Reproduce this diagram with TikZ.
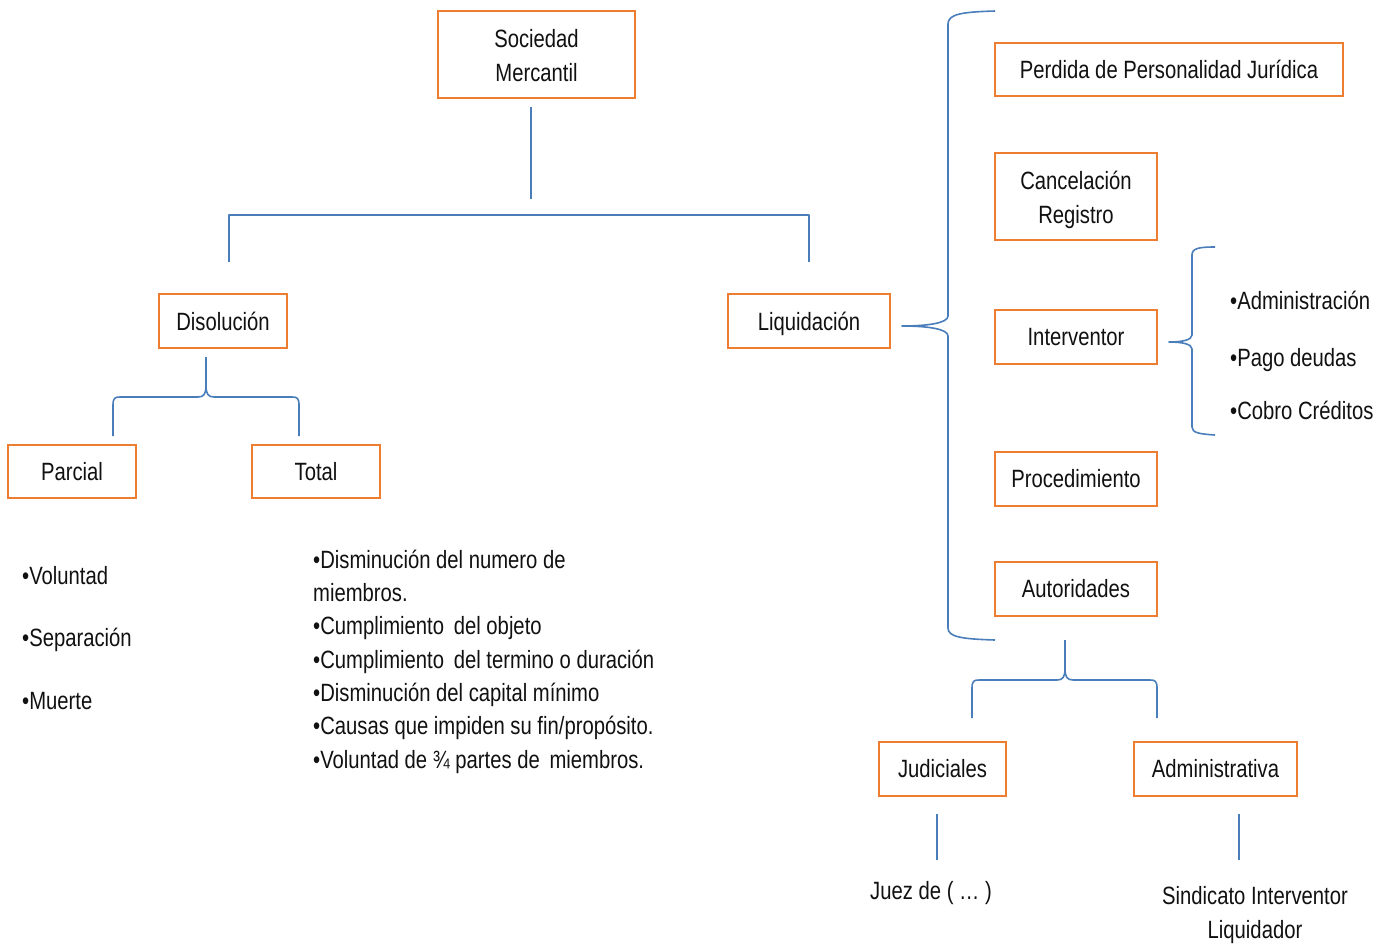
\documentclass[tikz,border=0pt]{standalone}
\usepackage{fontspec}
\setmainfont{Liberation Sans}[FakeStretch=0.81]
\definecolor{boxorange}{HTML}{ED7D31}
\definecolor{lineblue}{HTML}{4A7EBB}
\definecolor{txt}{HTML}{111111}
\tikzset{
  box/.style={draw=boxorange, line width=1.6pt, fill=white, rectangle, inner sep=0pt, align=center, text=txt},
  conn/.style={draw=lineblue, line width=1.6pt, line join=round},
  lbl/.style={inner sep=0pt, text=txt, align=left, anchor=base west},
}
\begin{document}
\begin{tikzpicture}[x=1pt,y=-1pt,font=\fontsize{25}{34}\selectfont]
\useasboundingbox (0,0) rectangle (1387,943);
% boxes
\node[box, minimum width=197pt, minimum height=87pt] (soc) at (536.5,54.5) {\rule{0pt}{20pt}Sociedad\\Mercantil};
\node[box, minimum width=128pt, minimum height=54pt] (dis) at (223,321) {Disolución};
\node[box, text depth=0pt, minimum width=162pt, minimum height=54pt] (liq) at (809,321) {Liquidación};
\node[box, minimum width=128pt, minimum height=53pt] (par) at (72,471.5) {Parcial};
\node[box, minimum width=128pt, minimum height=53pt] (tot) at (316,471.5) {Total};
\node[box, minimum width=348pt, minimum height=53pt] (per) at (1169,69.5) {Perdida de Personalidad Jurídica};
\node[box, minimum width=162pt, minimum height=87pt] (can) at (1076,196.5) {\rule{0pt}{26pt}Cancelaci\smash{ó}n\\Registro};
\node[box, minimum width=162pt, minimum height=54pt] (int) at (1076,337) {Interventor};
\node[box, minimum width=162pt, minimum height=54pt] (pro) at (1076,479) {Procedimiento};
\node[box, minimum width=162pt, minimum height=54pt] (aut) at (1076,589) {Autoridades};
\node[box, minimum width=127pt, minimum height=54pt] (jud) at (942.5,769) {Judiciales};
\node[box, minimum width=163pt, minimum height=54pt] (adm) at (1215.5,769) {Administrativa};
% texts
\node[lbl] (v1) at (22,584) {•Voluntad};
\node[lbl] (v2) at (22,646) {•Separación};
\node[lbl] (v3) at (22,709) {•Muerte};
\node[lbl] (t1) at (313,568) {•Disminución del numero de};
\node[lbl] (t2) at (313,601) {miembros.};
\node[lbl] (t3) at (313,634) {•Cumplimiento\, del objeto};
\node[lbl] (t4) at (313,668) {•Cumplimiento\, del termino o duración};
\node[lbl] (t5) at (313,701) {•Disminución del capital mínimo};
\node[lbl] (t6) at (313,734) {•Causas que impiden su fin/propósito.};
\node[lbl] (t7) at (313,768) {•Voluntad de ¾ partes de\, miembros.};
\node[lbl] (i1) at (1230,309) {•Administración};
\node[lbl] (i2) at (1230,366) {•Pago deudas};
\node[lbl] (i3) at (1230,419) {•Cobro Créditos};
\node[inner sep=0pt, anchor=base, text=txt] (juez) at (931,899) {Juez de ( … )};
\node[inner sep=0pt, anchor=base, text=txt, align=center] (sin) at (1255,938) {Sindicato Interventor\\Liquidador};
% coordinates
\coordinate (socS) at (531,107);
\coordinate (socB) at (531,199);
\coordinate (disT) at (229,262);
\coordinate (liqT) at (809,262);
\coordinate (judB) at (937,814);
\coordinate (juezT) at (937,860);
\coordinate (admB) at (1239,814);
\coordinate (sinT) at (1239,860);
% connectors
\draw[conn] (socS) -- (socB);
\draw[conn] (disT) -- (229,215) -- (809,215) -- (liqT);
\draw[conn] (judB) -- (juezT);
\draw[conn] (admB) -- (sinT);
% Disolucion brace
\draw[conn] (113,436) -- (113,405) .. controls (113,398) and (115,397) .. (120,397) -- (198,397)
  .. controls (204,397) and (206,394) .. (206,385) -- (206,357);
\draw[conn] (206,385) .. controls (206,394) and (208,397) .. (214,397) -- (292,397)
  .. controls (297,397) and (299,398) .. (299,405) -- (299,436);
% Autoridades brace
\draw[conn] (972,718) -- (972,688) .. controls (972,681) and (974,680) .. (979,680) -- (1057,680)
  .. controls (1063,680) and (1065,677) .. (1065,668) -- (1065,640);
\draw[conn] (1065,668) .. controls (1065,677) and (1067,680) .. (1073,680) -- (1150,680)
  .. controls (1155,680) and (1157,681) .. (1157,688) -- (1157,718);
% Liquidacion brace
\draw[conn] (995,11) .. controls (962,12) and (948,14) .. (948,24) -- (948,316)
  .. controls (948,323) and (928,326) .. (902,326)
  .. controls (928,326) and (948,329) .. (948,336) -- (948,628)
  .. controls (948,637) and (962,639) .. (995,640);
% Interventor brace
\draw[conn] (1215,247) .. controls (1200,247) and (1192,248) .. (1192,255) -- (1192,335)
  .. controls (1192,340) and (1182,342) .. (1169,342)
  .. controls (1182,342) and (1192,344) .. (1192,349) -- (1192,427)
  .. controls (1192,433) and (1200,434) .. (1215,435);
\end{tikzpicture}
\end{document}
